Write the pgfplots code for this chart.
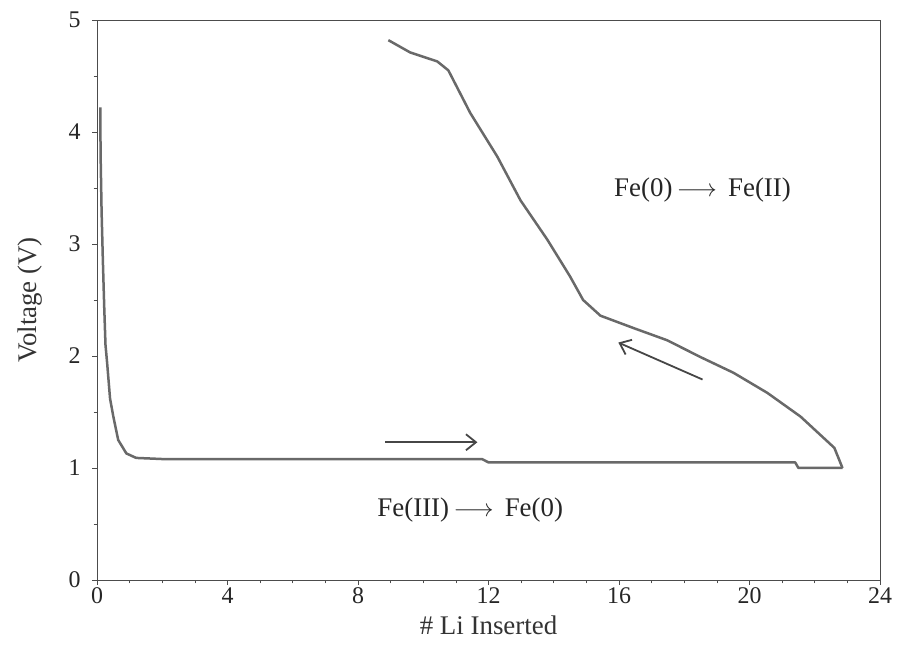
\documentclass[border=0pt]{standalone}
\usepackage{fontspec}
\setmainfont{Liberation Serif}
\usepackage{pgfplots}
\pgfplotsset{compat=1.18}
\usetikzlibrary{arrows.meta}
\definecolor{curve}{RGB}{105,105,105}
\definecolor{arr}{RGB}{70,70,70}
\begin{document}
\begin{tikzpicture}[x=1bp,y=1bp]
\begin{axis}[
  at={(97bp,70bp)}, anchor=south west,
  scale only axis, width=783bp, height=560bp,
  xmin=0, xmax=24, ymin=0, ymax=5,
  xtick={0,4,...,24}, ytick={0,1,...,5},
  minor x tick num=3, minor y tick num=1,
  tick align=outside, xtick pos=bottom, ytick pos=left,
  major tick length=5bp, minor tick length=3.5bp,
  axis line style={line width=0.9pt, black!70},
  every tick/.style={line width=0.8pt, black!70},
  every minor tick/.style={line width=0.7pt, black!70},
  ticklabel style={font=\fontsize{24}{28}\selectfont, text=black!85},
  xticklabel style={yshift=1bp},
  yticklabel style={xshift=-8bp},
  /pgf/number format/assume math mode=true,
  xlabel={\# Li Inserted}, ylabel={Voltage (V)},
  label style={font=\fontsize{27}{31}\selectfont, text=black!80},
  xlabel style={at={(axis description cs:0.5,-0.0804)}, anchor=center},
  ylabel style={at={(axis description cs:-0.0856,0.5)}, anchor=center},
  clip=false,
]
% discharge
\addplot[curve, line width=2.5bp, line join=round] coordinates {
(0.10,4.22) (0.11,3.80) (0.14,3.30) (0.18,2.85) (0.22,2.45) (0.26,2.10)
(0.31,1.94) (0.40,1.62) (0.50,1.46) (0.65,1.25) (0.90,1.13) (1.20,1.09)
(2,1.08) (4,1.08) (8,1.08) (11.8,1.08) (12.0,1.05) (16,1.05) (21.4,1.05)
(21.5,1.00) (22.85,1.00)
};
% charge
\addplot[curve, line width=2.5bp, line join=round] coordinates {
(22.85,1.00) (22.60,1.18) (21.56,1.46) (20.55,1.67) (19.51,1.85)
(18.50,1.99) (17.48,2.14) (16.44,2.25) (15.43,2.36) (14.90,2.50)
(14.50,2.71) (13.80,3.04) (12.98,3.39) (12.27,3.78) (11.44,4.17)
(10.77,4.55) (10.43,4.63) (9.60,4.71) (8.93,4.82)
};
% direction arrows
\addplot[arr, line width=1.8bp, -{Straight Barb[length=10bp,width=16bp]}] coordinates {(8.83,1.23) (11.66,1.23)};
\addplot[arr, line width=1.8bp, -{Straight Barb[length=10bp,width=16bp]}] coordinates {(18.56,1.79) (15.98,2.12)};
\node[font=\fontsize{27}{31}\selectfont, text=black!85] at (axis cs:18.56,3.48) {Fe(0)\,$\longrightarrow$\, Fe(II)};
\node[font=\fontsize{27}{31}\selectfont, text=black!85] at (axis cs:11.44,0.625) {Fe(III)\,$\longrightarrow$\, Fe(0)};
\end{axis}
\pgfresetboundingbox
\path[use as bounding box] (0,0) rectangle (898,650);
\end{tikzpicture}
\end{document}
